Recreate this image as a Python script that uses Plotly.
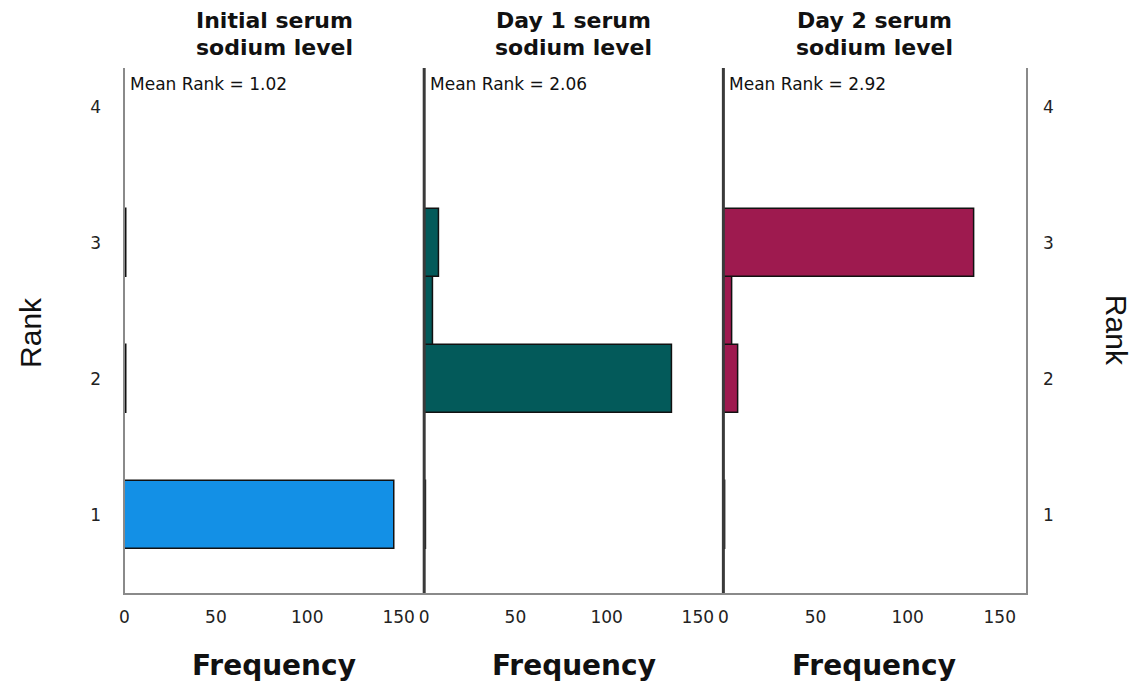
import plotly.graph_objects as go

# ---- data ----
rank_bins = [1, 2, 2.5, 3]
initial_counts = [148, 1, 0, 1]
day1_counts = [1, 136, 5, 8]
day2_counts = [1, 8, 5, 136]
title_line1 = ["Initial serum", "Day 1 serum", "Day 2 serum"]
title_line2 = ["sodium level", "sodium level", "sodium level"]
mean_ranks = ["1.02", "2.06", "2.92"]
colors = ["#1390E6", "#035A5A", "#9E1A4F"]
x_ticks = [0, 50, 100, 150]
y_ticks = [1, 2, 3, 4]

W, H = 1142, 688
OX, OY = 10, 8  # page offset compensation
px_x = lambda p: (p - OX) / W
px_y = lambda p: 1 - (p - OY) / H

doms = [(px_x(122), px_x(423)), (px_x(423), px_x(723.5)), (px_x(723.5), px_x(1027))]
ydom = (px_y(593), px_y(68))

fig = go.Figure()
series = [initial_counts, day1_counts, day2_counts]
for i, (vals, col) in enumerate(zip(series, colors)):
    xa = "x" if i == 0 else f"x{i+1}"
    fig.add_trace(go.Bar(
        x=vals, y=rank_bins, orientation="h", width=0.5,
        marker=dict(color=col, line=dict(color="#111111", width=1.5)),
        xaxis=xa, yaxis="y", showlegend=False,
    ))

tickfont = dict(family="DejaVu Sans", size=17, color="#222222")
layout = dict(
    width=W, height=H, plot_bgcolor="white", paper_bgcolor="white",
    margin=dict(l=0, r=0, t=0, b=0), bargap=0,
    yaxis=dict(domain=list(ydom), range=[0.425, 4.29], tickvals=y_ticks,
               showgrid=False, zeroline=False, showline=True, linecolor="#8a8a8a",
               linewidth=2, tickfont=tickfont, ticks="", ticklabelstandoff=18,
               anchor="x"),
    yaxis2=dict(domain=list(ydom), range=[0.425, 4.29], tickvals=y_ticks,
                overlaying="y", side="right", anchor="x3",
                showgrid=False, zeroline=False, showline=True, linecolor="#8a8a8a",
                linewidth=2, tickfont=tickfont, ticks="", ticklabelstandoff=12),
)
for i, d in enumerate(doms):
    key = "xaxis" if i == 0 else f"xaxis{i+1}"
    layout[key] = dict(domain=list(d), range=[0, 164], tickvals=x_ticks,
                       showgrid=False, zeroline=False, showline=True,
                       linecolor="#8a8a8a", linewidth=2, tickfont=tickfont,
                       ticks="", ticklabelstandoff=8, anchor="y")
fig.update_layout(**layout)

# dummy trace to make right axis render
fig.add_trace(go.Scatter(x=[None], y=[None], xaxis="x3", yaxis="y2",
                         showlegend=False, hoverinfo="skip"))

# panel separators
for xp in [423, 723.5]:
    fig.add_shape(type="line", xref="paper", yref="paper",
                  x0=px_x(xp), x1=px_x(xp), y0=ydom[0], y1=ydom[1],
                  line=dict(color="#3a3a3a", width=3))

titlefont = dict(family="DejaVu Sans", size=22, color="#111111")
for i, d in enumerate(doms):
    cx = (d[0] + d[1]) / 2
    fig.add_annotation(text=f"<b>{title_line1[i]}</b>", x=cx, y=px_y(20),
                       xref="paper", yref="paper", showarrow=False, font=titlefont,
                       xanchor="center", yanchor="middle")
    fig.add_annotation(text=f"<b>{title_line2[i]}</b>", x=cx, y=px_y(48),
                       xref="paper", yref="paper", showarrow=False, font=titlefont,
                       xanchor="center", yanchor="middle")
    fig.add_annotation(text=f"Mean Rank = {mean_ranks[i]}", x=d[0] + 4 / W,
                       y=px_y(84), xref="paper", yref="paper", showarrow=False,
                       font=dict(family="DejaVu Sans", size=17, color="#111111"),
                       xanchor="left", yanchor="middle")
    fig.add_annotation(text="<b>Frequency</b>", x=cx, y=px_y(665),
                       xref="paper", yref="paper", showarrow=False,
                       font=dict(family="DejaVu Sans", size=28, color="#111111"),
                       xanchor="center", yanchor="middle")

rankfont = dict(family="Liberation Sans Narrow, Liberation Sans", size=30, color="#111111")
fig.add_annotation(text="Rank", x=px_x(28), y=px_y(332), xref="paper", yref="paper",
                   showarrow=False, textangle=-90, font=rankfont,
                   xanchor="center", yanchor="middle")
fig.add_annotation(text="Rank", x=px_x(1118), y=px_y(330), xref="paper", yref="paper",
                   showarrow=False, textangle=90, font=rankfont,
                   xanchor="center", yanchor="middle")

fig.write_html("out.html")
